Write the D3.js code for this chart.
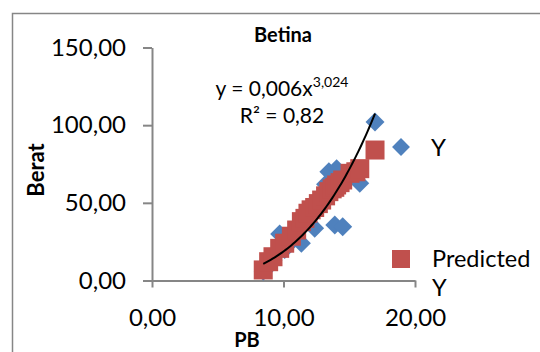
<!DOCTYPE html>
<html>
<head>
<meta charset="utf-8">
<script src="https://cdn.jsdelivr.net/npm/d3@7"></script>
<style>
  html, body { margin: 0; padding: 0; background: #fff; }
  svg { display: block; }
</style>
</head>
<body>
<div id="chart"></div>
<script>
// Values
const pbValues    = [8.46, 8.87, 9.2, 9.71, 10.09, 10.6, 11.0, 11.36, 11.63, 11.86, 12.1, 12.37, 12.65, 12.9, 13.2, 13.45, 13.7, 13.9, 14.04, 14.3, 14.5, 15.06, 15.5, 15.8, 16.96];
const beratY      = [6, 9, 13, 30, 20, 25, 30, 24, 37, 41, 45, 33.6, 49, 52, 62, 70, 60, 35.7, 72, 62, 34.6, 70, 72, 62.6, 102];
const predictedY  = [6.8, 12.1, 15.3, 20.7, 24, 28.5, 32.5, 37.9, 40, 43.3, 45.5, 47, 49.5, 51.8, 54.5, 57.2, 59, 60, 61.5, 63, 64.7, 69, 70, 72, 84];
const xTicks = [0, 10, 20];
const yTicks = [0, 50, 100, 150];
const seriesNames = ['Y', 'Predicted Y'];
const chartTitle = 'Betina';
const xTitle = 'PB';
const yTitle = 'Berat';
const eqBase = 'y = 0,006x';
const eqPower = '3,024';
const r2Label = 'R² = 0,82';

const width = 540, height = 352;
const plot = { left: 152, right: 415, top: 47.5, bottom: 280.5 };
const font = "Lato, 'Open Sans', sans-serif";
const blue = '#4F81BD', red = '#C0504D', axisGrey = '#868686';

const fmt = d3.formatLocale({ decimal: ',', thousands: '.', grouping: [3], currency: ['', ''] }).format('.2f');

const x = d3.scaleLinear().domain([0, 20]).range([plot.left, plot.right]);
const y = d3.scaleLinear().domain([0, 150]).range([plot.bottom, plot.top]);

const svg = d3.select('#chart').append('svg')
  .attr('width', width).attr('height', height)
  .style('font-family', font);

// chart area border (runs off the right and bottom edge)
svg.append('rect')
  .attr('x', 12.5).attr('y', 13.5)
  .attr('width', 600).attr('height', 400)
  .attr('fill', 'none').attr('stroke', axisGrey).attr('stroke-width', 1.5);

// Y axis
svg.append('g')
  .attr('transform', `translate(${plot.left},0)`)
  .call(d3.axisLeft(y).tickValues(yTicks).tickFormat(fmt).tickSize(9).tickSizeOuter(0).tickPadding(17))
  .call(g => g.select('.domain').attr('stroke', axisGrey).attr('stroke-width', 2))
  .call(g => g.selectAll('.tick line').attr('stroke', axisGrey).attr('stroke-width', 2))
  .call(g => g.selectAll('.tick text')
    .attr('fill', '#000').attr('font-size', '24px').attr('font-family', font));

// X axis
svg.append('g')
  .attr('transform', `translate(0,${plot.bottom})`)
  .call(d3.axisBottom(x).tickValues(xTicks).tickFormat(fmt).tickSize(7).tickSizeOuter(0).tickPadding(21))
  .call(g => g.select('.domain').attr('stroke', axisGrey).attr('stroke-width', 2))
  .call(g => g.selectAll('.tick line').attr('stroke', axisGrey).attr('stroke-width', 2))
  .call(g => g.selectAll('.tick text')
    .attr('fill', '#000').attr('font-size', '24px').attr('font-family', font));

const points = pbValues.map((pb, i) => ({ pb, obs: beratY[i], pred: predictedY[i] }));

// observed Y: diamonds
svg.append('g').selectAll('path')
  .data(points).join('path')
  .attr('d', d3.symbol(d3.symbolSquare, 180))
  .attr('transform', d => `translate(${x(d.pb)},${y(d.obs)}) rotate(45)`)
  .attr('fill', blue);

// predicted Y: squares
svg.append('g').selectAll('rect')
  .data(points).join('rect')
  .attr('x', d => x(d.pb) - 9.5).attr('y', d => y(d.pred) - 9.5)
  .attr('width', 19).attr('height', 19)
  .attr('fill', red);

// power trendline fitted on observed Y (log-log least squares)
const lx = points.map(d => Math.log(d.pb));
const ly = points.map(d => Math.log(d.obs));
const mx = d3.mean(lx), my = d3.mean(ly);
const b = d3.sum(lx, (v, i) => (v - mx) * (ly[i] - my)) / d3.sum(lx, v => (v - mx) ** 2);
const a = Math.exp(my - b * mx);
const [x0, x1] = d3.extent(pbValues);
const trend = d3.range(0, 61).map(i => x0 + (x1 - x0) * i / 60);
svg.append('path')
  .datum(trend)
  .attr('fill', 'none').attr('stroke', '#000').attr('stroke-width', 2)
  .attr('d', d3.line().x(v => x(v)).y(v => y(a * Math.pow(v, b))));

// trendline label
const eq = svg.append('text')
  .attr('x', 282).attr('y', 96)
  .attr('text-anchor', 'middle')
  .attr('font-size', '21px').attr('fill', '#000');
eq.append('tspan').text(eqBase);
eq.append('tspan').attr('font-size', '14px').attr('dy', '-9').text(eqPower);
svg.append('text')
  .attr('x', 282).attr('y', 123)
  .attr('text-anchor', 'middle')
  .attr('font-size', '21px').attr('fill', '#000')
  .text(r2Label);

// title and axis titles
svg.append('text')
  .attr('x', 283).attr('y', 42)
  .attr('text-anchor', 'middle')
  .attr('font-size', '20px').attr('font-weight', 'bold')
  .text(chartTitle);

svg.append('text')
  .attr('x', 247).attr('y', 347)
  .attr('text-anchor', 'middle')
  .attr('font-size', '20px').attr('font-weight', 'bold')
  .text(xTitle);

svg.append('text')
  .attr('transform', 'translate(44,170) rotate(-90)')
  .attr('text-anchor', 'middle')
  .attr('font-size', '22px').attr('font-weight', 'bold')
  .text(yTitle);

// legend
const legend = svg.append('g');
legend.append('path')
  .attr('d', d3.symbol(d3.symbolSquare, 160))
  .attr('transform', 'translate(401,147) rotate(45)')
  .attr('fill', blue);
legend.append('text')
  .attr('x', 431).attr('y', 156)
  .attr('font-size', '24px')
  .text(seriesNames[0]);

legend.append('rect')
  .attr('x', 392).attr('y', 250).attr('width', 18).attr('height', 18)
  .attr('fill', red);
const predWords = seriesNames[1].split(' ');
legend.append('text')
  .attr('x', 432).attr('y', 267)
  .attr('font-size', '23.5px')
  .text(predWords[0]);
legend.append('text')
  .attr('x', 432).attr('y', 296)
  .attr('font-size', '23.5px')
  .text(predWords[1]);
</script>
</body>
</html>
